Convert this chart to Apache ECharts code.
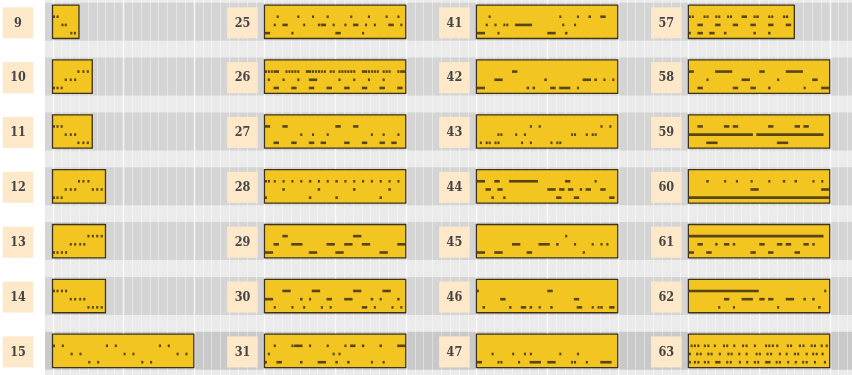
<!DOCTYPE html>
<html><head><meta charset="utf-8">
<script src="https://cdn.jsdelivr.net/npm/echarts/dist/echarts.min.js"></script>
<style>html,body{margin:0;padding:0;background:#fff}#c{width:852px;height:375px}</style>
</head><body><div id="c"></div>
<script>
// ---- data ----
const labels = [9,10,11,12,13,14,15, 25,26,27,28,29,30,31, 41,42,43,44,45,46,47, 57,58,59,60,61,62,63];
// bar lengths in x-axis units
const barLengths = [3,4.5,4.5,6,6,6,16, 16,16,16,16,16,16,16, 16,16,16,16,16,16,16, 12,16,16,16,16,16,16];
// marks per lane, positions in thirds of a unit: "a" = dot at a, "a-b" = dash over a..b
const laneTop = [
 "0 1.2","8.3 10 11.5","0 1.2 2.6","8.5 10 11.7","11.7 13.2 14.7 16.2","0 1.2 2.7 4.1","0 3 18 21 36 39",
 "4 11 16 21 29 35 41 45",
 "0 1 2 3-4 7 8 9 10 11 14-15 16 17 18 19 20 22 23 25 26 27 28 29 30 33-34 35 36 37 38 40 41 42 45 46-47",
 "0-1 6-7 24-25 30-31",
 "0 1 3 6 9 12 15-15 18 21 24-24 27 30 33 36 39 42 45",
 "6-7 30-32",
 "6-8 16-18 30-32 40-42",
 "3 9 10-12 15 21 27 29-30 33-33 39-39 45-47",
 "4 28 34 38-38 42-43","12-13","18 21 42 45","0-2 6-7 11-20 30-31 40","30","0 24-25","",
 "0 1 5 6 9 10 13 14 18-19 22 23-23 27 28 32 33-33",
 "0-1 9-14 24-25 33-38",
 "3-4 12-13 15-16 27-28 36-37 39-40",
 "6-6 12 16 21 27 32-32 36-36 42 45",
 "0-45",
 "0-23 46",
 "0.6 1.7 2.9 5.1 6.3 8.5 11.6 12.7 15.1 18.1 19.3 22.1 25.9 27 28.2 29.7 33.3 34.4 37.4 38.6 41.4 42.5 44.8 46.5"
];
const laneMid = [
 "2.9 4","4 5.7 7.2","4 5.7 7.2","4 5.7 7.2 13.2 14.7 16.2","5.7 7.2 8.9 10.3","5.7 7.2 8.9 10.3","6 9 24 27 42 45",
 "3 6-7 13 18 19-20 23 27 30-31 34 37 42-43 46",
 "1 6 11 15-17 25 30 35 40",
 "12 16 21 36 40 45",
 "6-6 18-18 30-30 42-42",
 "3-4 9-12 21-23 27-29 33-35 45-47",
 "0-2 12-12 15 21-22 27-29 36-36 39 45-45",
 "1 23 25",
 "3 6 9 10 13-18 29 33",
 "6-8 23-23 36-38 40-40 43 46",
 "7 8 13 16 32 33 37 39 40",
 "3-4 7-8 24-26 28-29 31-32 35-35 37-38 42-43",
 "12-14 21-24 27-27 33 39 42 44",
 "8-9 33-34",
 "5 12 16 18 28 34",
 "3-4 9-10 15-16 21-22 27-28 33-34",
 "6 18-20 30 42-43",
 "0-21 23-45",
 "21-23 45-47",
 "3-4 9-9 12-13 15-15 24-25 30-31 33-34 39-40 42-42",
 "12-13 18-21 24-25 27-28 33-35 39-39 42-42",
 "0 2.5 3.7 6.3 7.4 10.2 13.1 14.2 16.8 19.3 22.7 23.8 26.4 27.6 30.6 32.9 35.7 36.8 39.7 41.9 43.1 45.1"
];
const laneBottom = [
 "5.9 7.1","0 1.2 2.6","8.3 10 11.5","0 1.2 2.6","0 1.2 2.7 4.1","11.7 13.2 14.7 16.2","12 15 30 33",
 "0-1 9 24-25 33",
 "3-4 9-10 15-16 21-22 27-28 33-34 39-40 45-46",
 "3-4 9-10 15-16 19-20 27-28 33-34 39-40 43-44",
 "0 15-15 24-24 39-39",
 "0-2 15-17 24-26 39-41",
 "3 9 13 19 22 33-34 37 43 46",
 "0 4-5 12-12 18-20 24-24 28-28 36 40",
 "0-2 7 24-26 30-30",
 "0-2 17-17 19-19 25-26 28-31 34",
 "1 3 4 6 7 15 18 25 27 28",
 "5-5 9-9 27-28 33-34 45-46",
 "0-2 6-8 17-18 36",
 "2-2 11-11 15-16 18-18 21 25-25 34-35 39 41 42-42 45-46",
 "0-1 7 8 14 18-21 24-26 32 33 37 42-45",
 "0 3-4 7-8 12-12 22-22 27-27",
 "3-4 15-16 21-22 27-27 39 45-47",
 "6-9 30-33",
 "0-47",
 "0-1 6-7 21-22 27-28 36-37",
 "10 15 30 44-44",
 "0 1.7 2.9 5.1 6.3 9-10 12.7 13.9 17 19.5 22.1 23.2 26-27 29.5 30.6 33.4 36 38.5 39.7 42.5 45.9"
];

// ---- layout helpers ----
const ROWS = 7, PANEL_SPAN = 24, CELL = 1/3;
const X_MIN = -0.85, X_MAX = 90.53;
const LANE_OFF = [-5.0, 3.2, 11.4];

function parseLane(str){
  const out = [];
  if (!str || !str.trim()) return out;
  str.trim().split(/\s+/).forEach(t => {
    if (t.indexOf('-') > 0) { const [a,b] = t.split('-').map(Number); out.push([a+0.08, b+1-0.08]); }
    else { const a = Number(t); out.push([a+0.15, a+0.85]); }
  });
  return out;
}

const barData = [], dashData = [], labelData = [];
labels.forEach((lab, i) => {
  const panel = Math.floor(i / ROWS), row = i % ROWS, x0 = panel * PANEL_SPAN;
  barData.push([x0, x0 + barLengths[i], row]);
  labelData.push([x0, row, lab, panel]);
  [laneTop, laneMid, laneBottom].forEach((lane, l) => {
    parseLane(lane[i]).forEach(s => {
      const a = x0 + s[0]*CELL, b = x0 + Math.min(s[1]*CELL, barLengths[i] - 0.02);
      if (b > a) dashData.push([a, b, row, l]);
    });
  });
});
const rowData = []; for (let r = 0; r < ROWS; r++) rowData.push([0, r]);
const stripeData = []; for (let k = 0; k <= 90; k++) stripeData.push([k, 0]);

const chart = echarts.init(document.getElementById('c'), null, {renderer: 'canvas'});
chart.setOption({
  animation: false,
  grid: {left: 45, right: 0, top: 0, bottom: 0, show: true, backgroundColor: '#ebebeb', borderWidth: 0},
  xAxis: {type: 'value', min: X_MIN, max: X_MAX, show: false},
  yAxis: {type: 'value', min: -0.396, max: 6.441, inverse: true, show: false},
  series: [
    { type: 'custom', data: rowData, encode: {x: 0, y: 1}, z: 1, silent: true,
      renderItem(params, api){
        const cs = params.coordSys, r = api.value(1);
        const yc = api.coord([0, r])[1];
        return {type: 'rect', shape: {x: cs.x, y: yc - 19, width: cs.width, height: 38},
          style: {fill: r === ROWS - 1 ? '#c9c9c9' : '#d4d4d4'}};
      }},
    { type: 'custom', data: stripeData, encode: {x: 0, y: 1}, z: 2, silent: true,
      renderItem(params, api){
        const cs = params.coordSys, k = api.value(0);
        const x = Math.round(api.coord([k, 0])[0]) + 0.5;
        const major = k % 8 === 0;
        return {type: 'line', shape: {x1: x, y1: cs.y, x2: x, y2: cs.y + cs.height},
          style: {stroke: major ? 'rgba(255,255,255,0.75)' : 'rgba(255,255,255,0.38)', lineWidth: major ? 1.5 : 1}};
      }},
    { type: 'custom', data: barData, encode: {x: [0,1], y: 2}, z: 3, silent: true,
      renderItem(params, api){
        const p0 = api.coord([api.value(0), api.value(2)]);
        const p1 = api.coord([api.value(1), api.value(2)]);
        return {type: 'rect', shape: {x: p0[0], y: p0[1] - 16.6, width: p1[0] - p0[0], height: 33.4},
          style: {fill: '#f2c521', stroke: '#3b3320', lineWidth: 1.3}};
      }},
    { type: 'custom', data: dashData, encode: {x: [0,1], y: 2}, z: 4, silent: true,
      renderItem(params, api){
        const p0 = api.coord([api.value(0), api.value(2)]);
        const p1 = api.coord([api.value(1), api.value(2)]);
        const off = LANE_OFF[api.value(3)];
        return {type: 'rect', shape: {x: p0[0], y: p0[1] + off - 1.3, width: p1[0] - p0[0], height: 2.6},
          style: {fill: '#584414'}};
      }},
    { type: 'custom', data: labelData, encode: {x: 0, y: 1}, z: 5, clip: false, silent: true,
      renderItem(params, api){
        const panel = api.value(3);
        const p = api.coord([api.value(0) - 2.49, api.value(1)]);
        const cx = panel === 0 ? 18 : p[0];
        const cy = p[1] + 1.1;
        return {type: 'group', children: [
          {type: 'rect', shape: {x: cx - 15.3, y: cy - 15.5, width: 30.6, height: 31}, style: {fill: '#fde8c9'}},
          {type: 'text', style: {x: cx, y: cy + 0.5, text: String(api.value(2)), fill: '#454545',
            font: 'bold 12.5px "DejaVu Serif Condensed", "DejaVu Serif", serif', align: 'center', verticalAlign: 'middle'}}
        ]};
      }}
  ]
});
</script></body></html>
